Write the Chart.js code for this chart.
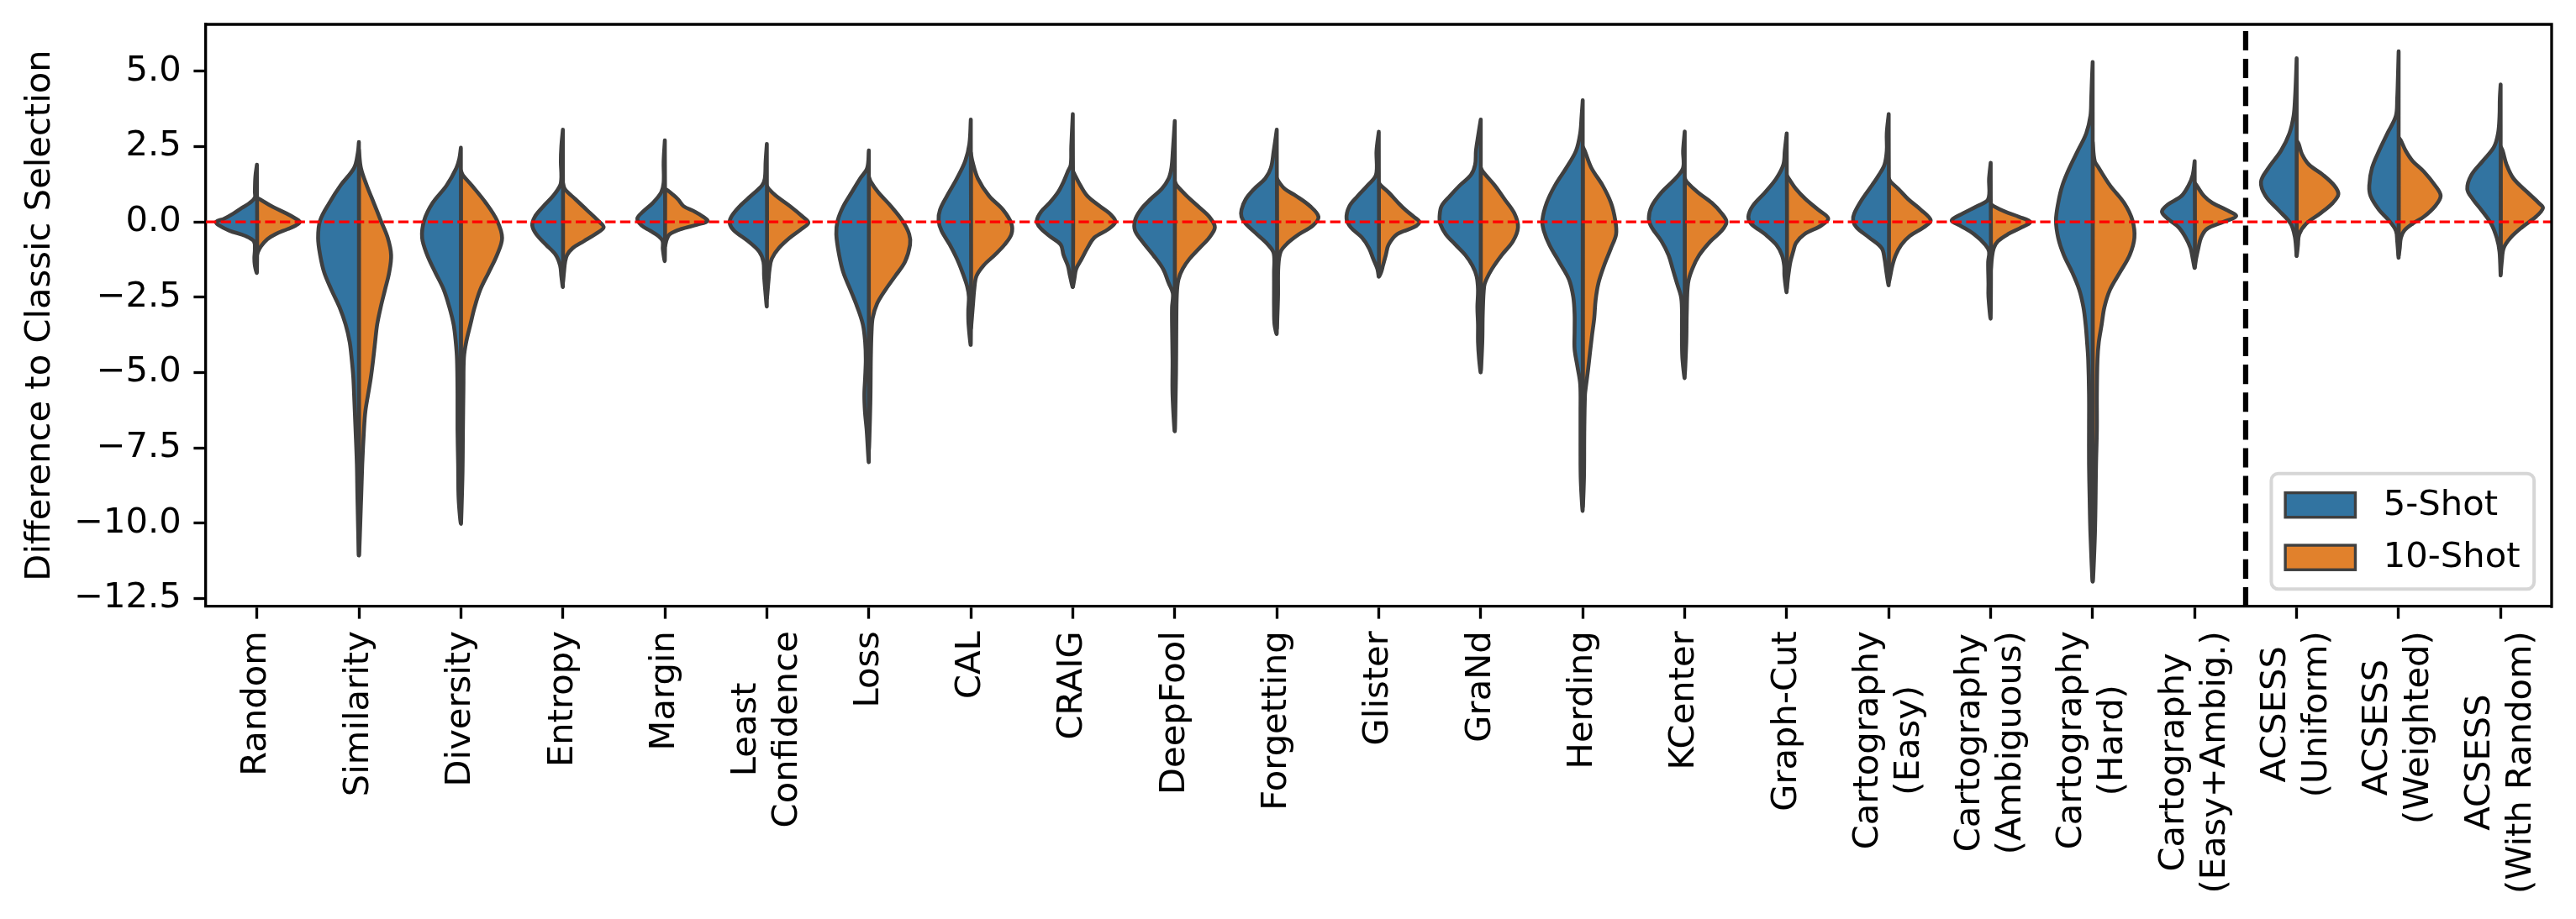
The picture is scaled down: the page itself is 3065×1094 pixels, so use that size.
<!DOCTYPE html>
<html><head><meta charset="utf-8">
<script src="https://cdn.jsdelivr.net/npm/chart.js@4.4.1/dist/chart.umd.min.js"></script>
<style>html,body{margin:0;padding:0;background:#fff;}#wrap{width:3065px;height:1094px;}</style>
</head><body><div id="wrap"><canvas id="c" width="3065" height="1094"></canvas></div>
<script>
// ---------------- data ----------------
const categories = ['Random','Similarity','Diversity','Entropy','Margin','Least\nConfidence','Loss','CAL','CRAIG','DeepFool','Forgetting','Glister','GraNd','Herding','KCenter','Graph-Cut','Cartography\n(Easy)','Cartography\n(Ambiguous)','Cartography\n(Hard)','Cartography\n(Easy+Ambig.)','ACSESS\n(Uniform)','ACSESS\n(Weighted)','ACSESS\n(With Random)'];
const seriesLabels = ['5-Shot', '10-Shot'];
const yTicks = [-12.5, -10.0, -7.5, -5.0, -2.5, 0.0, 2.5, 5.0];
const yRange = [-12.765, 6.556];
const referenceValue = 0;
const groupSplitAt = 19.5;

// violin profiles: [value, half-density] from top to bottom of each half
const shot5Profiles = [
 [[1.90,0],[1.5,0.015],[1.0,0.02],[0.81,0.02],[0.63,0.07],[0.46,0.15],[0.28,0.23],[0.11,0.32],[0.0,0.40],[-0.12,0.37],[-0.29,0.27],[-0.47,0.11],[-0.64,0.03],[-0.9,0.02],[-1.2,0.025],[-1.45,0.02],[-1.68,0]],
 [[2.65,0],[2.3,0.01],[1.79,0.047],[1.21,0.18],[0.63,0.29],[0.05,0.38],[-0.53,0.40],[-1.10,0.38],[-1.68,0.34],[-2.25,0.27],[-2.83,0.19],[-3.41,0.13],[-3.99,0.09],[-4.57,0.07],[-5.15,0.055],[-5.73,0.047],[-6.88,0.033],[-8.04,0.02],[-9.19,0.014],[-10.98,0]],
 [[2.46,0],[2.1,0.015],[1.79,0.044],[1.21,0.14],[0.63,0.277],[0.05,0.36],[-0.53,0.38],[-1.10,0.33],[-1.68,0.25],[-2.25,0.168],[-2.83,0.113],[-3.41,0.071],[-3.99,0.05],[-4.57,0.038],[-5.73,0.033],[-6.88,0.033],[-8.04,0.027],[-9.19,0.022],[-9.95,0]],
 [[3.06,0],[2.5,0.015],[2.0,0.02],[1.5,0.015],[1.21,0.027],[0.86,0.096],[0.52,0.19],[0.17,0.275],[-0.12,0.30],[-0.41,0.26],[-0.76,0.165],[-1.10,0.069],[-1.45,0.027],[-1.8,0.015],[-2.14,0]],
 [[2.71,0],[2.0,0.012],[1.3,0.012],[0.98,0.036],[0.63,0.118],[0.34,0.214],[0.11,0.27],[-0.12,0.228],[-0.29,0.146],[-0.47,0.063],[-0.64,0.022],[-0.9,0.02],[-1.28,0]],
 [[2.59,0],[2.0,0.012],[1.44,0.02],[1.21,0.047],[0.86,0.157],[0.52,0.266],[0.17,0.349],[-0.06,0.363],[-0.29,0.321],[-0.64,0.184],[-0.99,0.074],[-1.33,0.033],[-1.80,0.027],[-2.26,0.016],[-2.78,0]],
 [[2.37,0],[1.79,0.016],[1.44,0.085],[0.98,0.168],[0.52,0.25],[0.05,0.305],[-0.41,0.319],[-1.10,0.291],[-1.68,0.25],[-2.25,0.181],[-2.83,0.113],[-3.41,0.058],[-3.99,0.036],[-4.57,0.030],[-5.15,0.036],[-5.73,0.044],[-6.30,0.038],[-6.88,0.022],[-7.92,0]],
 [[3.40,0],[2.59,0.014],[2.02,0.055],[1.44,0.137],[0.86,0.234],[0.40,0.302],[0.05,0.316],[-0.29,0.288],[-0.76,0.206],[-1.22,0.137],[-1.68,0.082],[-2.14,0.036],[-2.49,0.019],[-2.95,0.025],[-3.41,0.022],[-4.05,0]],
 [[3.58,0],[2.5,0.015],[1.9,0.02],[1.67,0.049],[1.33,0.091],[0.98,0.146],[0.63,0.228],[0.34,0.31],[0.05,0.352],[-0.18,0.324],[-0.47,0.228],[-0.76,0.118],[-1.10,0.091],[-1.45,0.049],[-1.80,0.027],[-2.14,0]],
 [[3.35,0],[2.36,0.019],[1.79,0.033],[1.44,0.06],[1.09,0.129],[0.75,0.239],[0.40,0.335],[0.05,0.39],[-0.29,0.39],[-0.64,0.321],[-1.10,0.212],[-1.56,0.115],[-2.03,0.06],[-2.37,0.019],[-2.83,0.027],[-3.41,0.027],[-4.57,0.022],[-5.73,0.022],[-6.88,0]],
 [[3.06,0],[2.36,0.03],[1.79,0.058],[1.44,0.113],[1.09,0.223],[0.75,0.305],[0.40,0.346],[0.17,0.346],[-0.06,0.305],[-0.41,0.195],[-0.76,0.085],[-1.04,0.03],[-1.68,0.027],[-2.25,0.027],[-2.83,0.027],[-3.41,0.022],[-3.70,0]],
 [[2.99,0],[2.36,0.022],[1.56,0.027],[1.21,0.11],[0.86,0.206],[0.52,0.288],[0.11,0.316],[-0.18,0.275],[-0.52,0.165],[-0.87,0.096],[-1.22,0.055],[-1.56,0.014],[-1.80,0]],
 [[3.40,0],[2.83,0.027],[2.36,0.047],[1.90,0.055],[1.56,0.096],[1.21,0.206],[0.86,0.302],[0.52,0.385],[0.17,0.404],[-0.06,0.398],[-0.41,0.343],[-0.76,0.247],[-1.10,0.151],[-1.45,0.082],[-1.80,0.041],[-2.26,0.027],[-2.83,0.033],[-3.41,0.027],[-3.99,0.027],[-4.57,0.016],[-4.97,0]],
 [[4.04,0],[3.52,0.011],[2.94,0.025],[2.36,0.066],[1.79,0.162],[1.21,0.272],[0.63,0.354],[0.05,0.396],[-0.29,0.382],[-0.76,0.327],[-1.33,0.231],[-1.91,0.135],[-2.49,0.093],[-3.06,0.08],[-3.64,0.08],[-4.22,0.08],[-4.80,0.052],[-5.38,0.025],[-6.30,0.022],[-7.46,0.022],[-8.61,0.019],[-9.54,0]],
 [[3.0,0],[2.36,0.016],[1.79,0.016],[1.44,0.091],[0.98,0.228],[0.52,0.324],[0.11,0.352],[-0.18,0.324],[-0.64,0.228],[-1.10,0.159],[-1.56,0.118],[-2.03,0.077],[-2.49,0.036],[-2.95,0.027],[-3.41,0.027],[-3.99,0.027],[-4.57,0.022],[-5.15,0]],
 [[2.94,0],[2.36,0.019],[1.90,0.033],[1.44,0.102],[0.98,0.212],[0.52,0.335],[0.17,0.376],[-0.06,0.349],[-0.41,0.212],[-0.76,0.102],[-1.10,0.047],[-1.45,0.025],[-1.80,0.022],[-2.31,0]],
 [[3.58,0],[2.94,0.019],[2.36,0.019],[1.90,0.041],[1.56,0.096],[1.21,0.165],[0.75,0.261],[0.28,0.338],[0.05,0.349],[-0.18,0.316],[-0.52,0.192],[-0.87,0.069],[-1.22,0.041],[-1.68,0.022],[-2.08,0]],
 [[1.96,0],[1.44,0.016],[0.75,0.025],[0.52,0.135],[0.28,0.272],[0.05,0.382],[-0.12,0.30],[-0.41,0.162],[-0.76,0.052],[-0.99,0.016],[-1.33,0.025],[-2.03,0.022],[-2.49,0.022],[-3.18,0]],
 [[5.31,0],[4.68,0.008],[4.10,0.014],[3.52,0.022],[2.94,0.063],[2.36,0.146],[1.79,0.228],[1.21,0.297],[0.63,0.338],[0.05,0.36],[-0.53,0.338],[-1.10,0.283],[-1.68,0.2],[-2.25,0.132],[-2.83,0.091],[-3.41,0.069],[-3.99,0.055],[-4.57,0.044],[-5.73,0.036],[-6.88,0.036],[-8.04,0.036],[-9.19,0.03],[-10.35,0.022],[-11.85,0]],
 [[2.02,0],[1.56,0.019],[1.21,0.06],[0.86,0.129],[0.57,0.266],[0.34,0.321],[0.11,0.266],[-0.18,0.157],[-0.52,0.088],[-0.87,0.041],[-1.22,0.019],[-1.51,0]],
 [[5.43,0],[4.68,0.008],[4.10,0.016],[3.52,0.03],[2.94,0.071],[2.36,0.154],[1.79,0.277],[1.33,0.35],[0.86,0.305],[0.40,0.181],[-0.06,0.058],[-0.53,0.016],[-1.10,0]],
 [[5.66,0],[4.68,0.008],[4.10,0.014],[3.52,0.027],[2.94,0.11],[2.36,0.192],[1.79,0.261],[1.21,0.288],[0.86,0.275],[0.40,0.192],[0.05,0.096],[-0.29,0.027],[-0.64,0.014],[-1.16,0]],
 [[4.56,0],[4.10,0.008],[3.52,0.011],[2.94,0.025],[2.48,0.066],[2.02,0.176],[1.56,0.286],[1.09,0.327],[0.75,0.272],[0.40,0.19],[-0.06,0.093],[-0.53,0.038],[-0.99,0.011],[-1.74,0]]
];
const shot10Profiles = [
 [[0.8,0],[0.75,0.03],[0.49,0.16],[0.28,0.29],[0.11,0.38],[0.0,0.42],[-0.12,0.38],[-0.24,0.30],[-0.41,0.18],[-0.58,0.10],[-0.81,0.04],[-1.0,0.01],[-1.1,0]],
 [[2.4,0],[1.79,0.02],[1.21,0.077],[0.63,0.146],[0.05,0.214],[-0.53,0.283],[-1.10,0.316],[-1.68,0.297],[-2.25,0.256],[-2.83,0.214],[-3.41,0.179],[-3.99,0.159],[-4.57,0.14],[-5.15,0.118],[-5.73,0.09],[-6.3,0.063],[-6.88,0.05],[-8.04,0.033],[-9.19,0.022],[-10.98,0]],
 [[1.7,0],[1.55,0.02],[1.21,0.107],[0.63,0.245],[0.05,0.354],[-0.53,0.404],[-1.10,0.354],[-1.68,0.272],[-2.25,0.19],[-2.83,0.135],[-3.41,0.093],[-3.99,0.052],[-4.5,0.03],[-5.5,0.025],[-7,0.02],[-8.5,0.015],[-9.95,0]],
 [[1.3,0],[1.09,0.02],[0.75,0.124],[0.40,0.234],[0.05,0.343],[-0.18,0.40],[-0.41,0.316],[-0.64,0.206],[-0.87,0.096],[-1.10,0.041],[-1.33,0.022],[-1.7,0.01],[-2.0,0]],
 [[1.1,0],[1.04,0.03],[0.92,0.074],[0.75,0.129],[0.52,0.184],[0.34,0.294],[0.17,0.376],[0.03,0.418],[-0.09,0.32],[-0.24,0.157],[-0.41,0.047],[-0.58,0.019],[-0.8,0]],
 [[1.2,0],[1.09,0.02],[0.86,0.091],[0.52,0.228],[0.17,0.352],[-0.03,0.407],[-0.24,0.338],[-0.52,0.228],[-0.87,0.118],[-1.22,0.049],[-1.56,0.027],[-2.0,0.015],[-2.5,0]],
 [[1.5,0],[1.33,0.02],[0.98,0.093],[0.52,0.217],[0.05,0.327],[-0.41,0.396],[-0.76,0.404],[-1.33,0.354],[-1.80,0.258],[-2.26,0.162],[-2.72,0.08],[-3.18,0.038],[-3.64,0.027],[-4.5,0.02],[-6,0.015],[-7.5,0]],
 [[2.3,0],[2.02,0.015],[1.44,0.069],[0.86,0.179],[0.40,0.316],[-0.06,0.398],[-0.41,0.398],[-0.76,0.33],[-1.10,0.234],[-1.45,0.124],[-1.80,0.055],[-2.26,0.033],[-2.8,0.02],[-3.5,0]],
 [[1.7,0],[1.56,0.02],[1.21,0.074],[0.86,0.143],[0.52,0.266],[0.23,0.376],[0.0,0.418],[-0.24,0.349],[-0.52,0.212],[-0.87,0.143],[-1.22,0.088],[-1.56,0.033],[-1.9,0.015],[-2.14,0]],
 [[1.35,0],[1.21,0.02],[0.86,0.118],[0.52,0.228],[0.17,0.338],[-0.18,0.393],[-0.52,0.338],[-0.87,0.242],[-1.22,0.146],[-1.56,0.077],[-1.91,0.036],[-2.4,0.02],[-3.5,0.015],[-5,0.012],[-6.88,0]],
 [[1.45,0],[1.33,0.02],[1.09,0.08],[0.86,0.19],[0.52,0.327],[0.17,0.409],[-0.12,0.354],[-0.41,0.217],[-0.70,0.107],[-0.99,0.038],[-1.5,0.015],[-2.5,0.012],[-3.5,0]],
 [[1.3,0],[1.21,0.02],[0.98,0.096],[0.63,0.192],[0.40,0.261],[0.17,0.343],[0.0,0.398],[-0.18,0.343],[-0.41,0.179],[-0.76,0.096],[-1.10,0.069],[-1.45,0.041],[-1.68,0.022],[-1.80,0]],
 [[1.8,0],[1.67,0.02],[1.21,0.137],[0.75,0.234],[0.28,0.33],[-0.18,0.365],[-0.64,0.316],[-1.10,0.206],[-1.56,0.11],[-1.91,0.055],[-2.14,0.033],[-3,0.02],[-4,0.015],[-4.9,0]],
 [[2.5,0],[2.36,0.02],[1.79,0.085],[1.21,0.195],[0.63,0.277],[0.05,0.319],[-0.41,0.327],[-0.87,0.277],[-1.45,0.209],[-2.03,0.154],[-2.60,0.126],[-3.18,0.113],[-3.76,0.091],[-4.34,0.071],[-4.91,0.052],[-5.49,0.03],[-5.73,0.022],[-7,0.015],[-8.5,0.012],[-9.4,0]],
 [[1.45,0],[1.33,0.02],[0.98,0.129],[0.63,0.266],[0.28,0.363],[0.0,0.409],[-0.29,0.363],[-0.64,0.253],[-1.10,0.143],[-1.56,0.074],[-2.03,0.033],[-3,0.02],[-4,0.015],[-5.0,0]],
 [[1.55,0],[1.44,0.02],[1.09,0.091],[0.75,0.187],[0.40,0.31],[0.11,0.407],[-0.12,0.338],[-0.41,0.173],[-0.70,0.091],[-0.99,0.063],[-1.33,0.036],[-1.8,0.015],[-2.2,0]],
 [[1.45,0],[1.33,0.02],[1.09,0.096],[0.75,0.192],[0.40,0.316],[0.05,0.412],[-0.18,0.343],[-0.47,0.206],[-0.76,0.124],[-1.10,0.069],[-1.45,0.036],[-1.8,0.015],[-2.0,0]],
 [[0.6,0],[0.52,0.03],[0.34,0.14],[0.17,0.277],[0.0,0.387],[-0.18,0.305],[-0.41,0.168],[-0.64,0.071],[-0.87,0.03],[-1.2,0.012],[-1.6,0]],
 [[2.65,0],[2.02,0.02],[1.79,0.06],[1.21,0.17],[0.63,0.308],[0.05,0.39],[-0.53,0.409],[-1.10,0.363],[-1.68,0.266],[-2.25,0.17],[-2.83,0.115],[-3.41,0.088],[-3.99,0.06],[-4.57,0.047],[-5.73,0.041],[-6.88,0.041],[-8.04,0.033],[-10.35,0.022],[-11.85,0]],
 [[1.3,0],[1.21,0.02],[0.86,0.091],[0.63,0.173],[0.40,0.31],[0.19,0.407],[0.0,0.283],[-0.24,0.118],[-0.52,0.063],[-0.87,0.036],[-1.2,0.015],[-1.5,0]],
 [[2.7,0],[2.59,0.02],[2.25,0.052],[1.90,0.121],[1.56,0.258],[1.21,0.368],[0.92,0.409],[0.63,0.354],[0.28,0.231],[-0.06,0.093],[-0.41,0.025],[-0.8,0.012],[-1.1,0]],
 [[2.8,0],[2.71,0.02],[2.36,0.069],[2.02,0.137],[1.67,0.247],[1.21,0.357],[0.86,0.412],[0.52,0.357],[0.17,0.247],[-0.06,0.137],[-0.29,0.055],[-0.53,0.022],[-0.9,0.01],[-1.1,0]],
 [[2.5,0],[2.36,0.02],[1.90,0.058],[1.44,0.126],[0.98,0.264],[0.63,0.374],[0.46,0.415],[0.17,0.346],[-0.18,0.209],[-0.52,0.099],[-0.87,0.03],[-1.3,0.012],[-1.7,0]]
];

// ---------------- styling ----------------
const FONT_PX = 41.67;
const FONT_FAMILY = '"DejaVu Sans", sans-serif';
const LINE_SPACING = 49;
const COLORS = ['#3274a1', '#e1812c'];
const EDGE = '#3f3f3f';
const SPINE_W = 3.33;
const TICK_LEN = 14.6;
const TICK_PAD = 14.6;
const AXIS_LEFT_W = 245;
const AXIS_BOTTOM_H = 372;

Chart.defaults.font.family = FONT_FAMILY;
Chart.defaults.font.size = FONT_PX;
Chart.defaults.color = '#000';

function fmtY(v) {
  const s = Math.abs(v).toFixed(1);
  return v < 0 ? '\u2212' + s : s;
}

const datasets = [];
datasets.push({ label: 'reference', data: [{x: -0.5, y: referenceValue}, {x: categories.length - 0.5, y: referenceValue}],
  borderColor: '#ff0000', borderWidth: 3.33, borderDash: [12.3, 5.3], borderCapStyle: 'butt', pointRadius: 0, fill: false, tension: 0, order: -2 });
datasets.push({ label: 'split', data: [{x: groupSplitAt, y: yRange[0]}, {x: groupSplitAt, y: yRange[1]}],
  borderColor: '#000', borderWidth: 6.25, borderDash: [23.1, 10], borderCapStyle: 'butt', pointRadius: 0, fill: false, tension: 0, order: -1 });

[shot5Profiles, shot10Profiles].forEach((profiles, s) => {
  const side = s === 0 ? -1 : 1;
  profiles.forEach((prof, i) => {
    const pts = prof.map(([v, d]) => ({x: i + side * d, y: v}));
    pts.push({x: i, y: prof[0][0]});
    datasets.push({
      label: seriesLabels[s] + ' ' + categories[i].replace('\n', ' '),
      data: pts,
      borderColor: EDGE, borderWidth: 4.6, backgroundColor: COLORS[s],
      fill: 'shape', pointRadius: 0, tension: 0.35,
      borderJoinStyle: 'round', borderCapStyle: 'round', order: 0
    });
  });
});

const framePlugin = {
  id: 'frame',
  afterDatasetsDraw(chart) {
    const {ctx, chartArea: a} = chart;
    ctx.save();
    ctx.strokeStyle = '#000';
    ctx.lineWidth = SPINE_W;
    ctx.lineCap = 'square';
    ctx.beginPath();
    ctx.moveTo(a.left, a.top);
    ctx.lineTo(a.right, a.top);
    ctx.lineTo(a.right, a.bottom);
    ctx.stroke();
    ctx.restore();
  }
};

// category labels on the x scale, rotated 90 degrees, multi-line blocks centred on each tick
const xLabelPlugin = {
  id: 'xCategoryLabels',
  afterDraw(chart) {
    const sx = chart.scales.x;
    const ctx = chart.ctx;
    ctx.save();
    ctx.font = FONT_PX + 'px ' + FONT_FAMILY;
    ctx.fillStyle = '#000';
    ctx.textAlign = 'center';
    ctx.textBaseline = 'middle';
    const top = sx.top + TICK_LEN + TICK_PAD;
    sx.ticks.forEach(t => {
      const label = categories[t.value];
      if (label === undefined) return;
      const lines = label.split('\n');
      const blockLen = Math.max(...lines.map(l => ctx.measureText(l).width));
      const px = sx.getPixelForValue(t.value);
      lines.forEach((ln, k) => {
        const cx = px + (k - (lines.length - 1) / 2) * LINE_SPACING;
        ctx.save();
        ctx.translate(cx, top + blockLen / 2);
        ctx.rotate(-Math.PI / 2);
        ctx.fillText(ln, 0, 0);
        ctx.restore();
      });
    });
    ctx.restore();
  }
};

const legendPlugin = {
  id: 'boxLegend',
  afterDraw(chart) {
    const {ctx, chartArea: a} = chart;
    const fs = FONT_PX;
    ctx.save();
    ctx.font = fs + 'px ' + FONT_FAMILY;
    const textW = Math.max(...seriesLabels.map(t => ctx.measureText(t).width));
    const pad = 0.4 * fs, handleW = 2.0 * fs, handleH = 0.7 * fs, gap = 0.8 * fs, spacing = 0.5 * fs;
    const w = 2 * pad + handleW + gap + textW;
    const h = 2 * pad + seriesLabels.length * fs + (seriesLabels.length - 1) * spacing;
    const right = a.right - 0.5 * fs, bottom = a.bottom - 0.5 * fs;
    const left = right - w, top = bottom - h;
    const r = 0.2 * fs;
    ctx.beginPath();
    ctx.moveTo(left + r, top);
    ctx.arcTo(right, top, right, bottom, r);
    ctx.arcTo(right, bottom, left, bottom, r);
    ctx.arcTo(left, bottom, left, top, r);
    ctx.arcTo(left, top, right, top, r);
    ctx.closePath();
    ctx.fillStyle = 'rgba(255,255,255,0.8)';
    ctx.fill();
    ctx.strokeStyle = '#d6d6d6';
    ctx.lineWidth = 4;
    ctx.stroke();
    seriesLabels.forEach((t, k) => {
      const cy = top + pad + fs / 2 + k * (fs + spacing);
      ctx.fillStyle = COLORS[k];
      ctx.fillRect(left + pad, cy - handleH / 2, handleW, handleH);
      ctx.strokeStyle = EDGE;
      ctx.lineWidth = 3.4;
      ctx.strokeRect(left + pad, cy - handleH / 2, handleW, handleH);
      ctx.fillStyle = '#000';
      ctx.textAlign = 'left';
      ctx.textBaseline = 'middle';
      ctx.fillText(t, left + pad + handleW + gap, cy + 1);
    });
    ctx.restore();
  }
};

new Chart(document.getElementById('c'), {
  type: 'line',
  data: { datasets },
  plugins: [framePlugin, xLabelPlugin, legendPlugin],
  options: {
    responsive: false, animation: false, devicePixelRatio: 1, events: [],
    layout: { padding: { top: 29, right: 29, bottom: 0, left: 0 } },
    plugins: { legend: { display: false }, tooltip: { enabled: false } },
    scales: {
      x: {
        type: 'linear', min: -0.5, max: categories.length - 0.5,
        afterBuildTicks: s => { s.ticks = categories.map((_, i) => ({value: i})); },
        afterFit: s => { s.height = AXIS_BOTTOM_H; s.paddingLeft = 0; s.paddingRight = 0; },
        ticks: { display: false, autoSkip: false },
        grid: { drawOnChartArea: false, drawTicks: true, tickLength: TICK_LEN, tickWidth: SPINE_W, tickColor: '#000' },
        border: { display: true, color: '#000', width: SPINE_W }
      },
      y: {
        type: 'linear', min: yRange[0], max: yRange[1],
        afterBuildTicks: s => { s.ticks = yTicks.map(v => ({value: v})); },
        afterFit: s => { s.width = AXIS_LEFT_W; s.paddingTop = 0; s.paddingBottom = 0; },
        ticks: { padding: TICK_PAD, color: '#000', font: { size: FONT_PX }, callback: v => fmtY(v) },
        grid: { drawOnChartArea: false, drawTicks: true, tickLength: TICK_LEN, tickWidth: SPINE_W, tickColor: '#000' },
        border: { display: true, color: '#000', width: SPINE_W },
        title: { display: true, text: 'Difference to Classic Selection', color: '#000',
                 font: { size: FONT_PX }, padding: { top: 23, bottom: 0 } }
      }
    }
  }
});
</script></body></html>
